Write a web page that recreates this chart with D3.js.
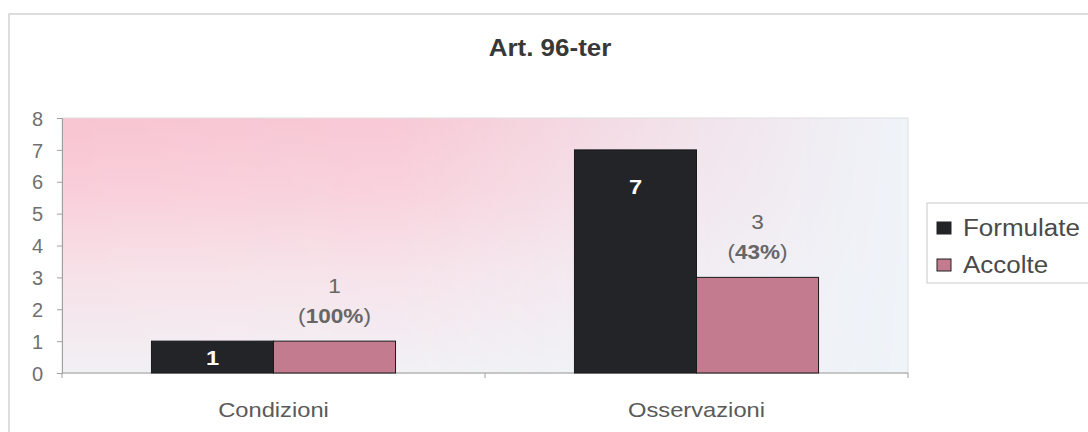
<!DOCTYPE html>
<html>
<head>
<meta charset="utf-8">
<script src="https://cdn.jsdelivr.net/npm/d3@7"></script>
<style>
  html, body { margin: 0; padding: 0; background: #fff; }
  svg { display: block; font-family: "Liberation Sans", Arial, sans-serif; }
</style>
</head>
<body>
<svg id="chart" width="1088" height="432"></svg>
<script>
// Art. 96-ter: requests made ("Formulate") vs accepted ("Accolte")
const categories = ["Condizioni", "Osservazioni"];
const seriesNames = ["Formulate", "Accolte"];
const formulate = [1, 7];
const accolte = [1, 3];
const acceptedPct = ["100%", "43%"];
const yTicks = [0, 1, 2, 3, 4, 5, 6, 7, 8];
const colors = ["#232427", "#c27b8f"];

const svg = d3.select("#chart");
const W = 1088, H = 432;
const plot = { left: 62, right: 908, top: 118, bottom: 373 };
const SX = 1.13; // horizontal text stretch

// text helper: places a label with a slight horizontal stretch
function label(g, x, y, txt, opts = {}) {
  const t = g.append("text")
    .attr("transform", `translate(${x},${y}) scale(${SX},1)`)
    .attr("text-anchor", opts.anchor || "middle")
    .attr("font-size", opts.size || 21)
    .attr("font-weight", opts.weight || "normal")
    .attr("fill", opts.fill || "#555");
  if (txt != null) t.text(txt);
  return t;
}

// chart frame
svg.append("rect")
  .attr("x", 9).attr("y", 14).attr("width", W + 20).attr("height", H + 20)
  .attr("fill", "#fff").attr("stroke", "#d2d2d2").attr("stroke-width", 1.5);

// plot-area background: pink band at the top-left fading to pale blue-white
const defs = svg.append("defs");
const vg = defs.append("linearGradient").attr("id", "pinkV")
  .attr("x1", 0).attr("y1", 0).attr("x2", 0).attr("y2", 1);
vg.append("stop").attr("offset", "0").attr("stop-color", "#f8c4d1");
vg.append("stop").attr("offset", "0.3").attr("stop-color", "#f9cfda");
vg.append("stop").attr("offset", "0.6").attr("stop-color", "#f7e1e8");
vg.append("stop").attr("offset", "1").attr("stop-color", "#f1f0f4");
const hg = defs.append("linearGradient").attr("id", "fadeH")
  .attr("x1", 0).attr("y1", 0).attr("x2", 1).attr("y2", 0);
hg.append("stop").attr("offset", "0").attr("stop-color", "#fff").attr("stop-opacity", 1);
hg.append("stop").attr("offset", "0.4").attr("stop-color", "#fff").attr("stop-opacity", 0.9);
hg.append("stop").attr("offset", "0.75").attr("stop-color", "#fff").attr("stop-opacity", 0.35);
hg.append("stop").attr("offset", "1").attr("stop-color", "#fff").attr("stop-opacity", 0);
defs.append("mask").attr("id", "fadeMask")
  .append("rect")
  .attr("x", plot.left).attr("y", plot.top)
  .attr("width", plot.right - plot.left).attr("height", plot.bottom - plot.top)
  .attr("fill", "url(#fadeH)");

svg.append("rect")
  .attr("x", plot.left).attr("y", plot.top)
  .attr("width", plot.right - plot.left).attr("height", plot.bottom - plot.top)
  .attr("fill", "#eff4f9");
svg.append("rect")
  .attr("x", plot.left).attr("y", plot.top)
  .attr("width", plot.right - plot.left).attr("height", plot.bottom - plot.top)
  .attr("fill", "url(#pinkV)").attr("mask", "url(#fadeMask)");
svg.append("rect")
  .attr("x", plot.left).attr("y", plot.top)
  .attr("width", plot.right - plot.left).attr("height", plot.bottom - plot.top)
  .attr("fill", "none").attr("stroke", "#dedede").attr("stroke-width", 1);

// scales
const x0 = d3.scaleBand().domain(categories)
  .range([plot.left, plot.right]).paddingInner(0.423).paddingOuter(0.2115);
const x1 = d3.scaleBand().domain(seriesNames).range([0, x0.bandwidth()]);
const y = d3.scaleLinear().domain([0, 8]).range([plot.bottom, plot.top]);

// y axis
const yAxis = svg.append("g").attr("transform", `translate(${plot.left},0)`)
  .call(d3.axisLeft(y).tickValues(yTicks).tickSize(5).tickPadding(14).tickFormat(d3.format("d")));
yAxis.select(".domain").attr("stroke", "#a0a0a0");
yAxis.selectAll(".tick line").attr("stroke", "#a0a0a0");
yAxis.selectAll(".tick text")
  .attr("font-size", 20).attr("fill", "#707070").attr("font-family", null)
  .attr("dy", "0.36em");

// x axis with boundary ticks
const xAxis = svg.append("g").attr("transform", `translate(0,${plot.bottom})`);
xAxis.append("line").attr("x1", plot.left).attr("x2", plot.right)
  .attr("stroke", "#a0a0a0");
const bounds = [plot.left, (plot.left + plot.right) / 2, plot.right];
xAxis.selectAll("line.tk").data(bounds).join("line").attr("class", "tk")
  .attr("x1", d => d).attr("x2", d => d).attr("y1", 0).attr("y2", 5)
  .attr("stroke", "#a0a0a0");
categories.forEach(c => {
  label(svg, x0(c) + x0.bandwidth() / 2, 417, c, { size: 21, fill: "#5a5a5a" });
});

// bars
const rows = categories.map((c, i) => ({ cat: c, vals: [formulate[i], accolte[i]], pct: acceptedPct[i] }));
const groups = svg.append("g").selectAll("g").data(rows).join("g")
  .attr("transform", d => `translate(${x0(d.cat)},0)`);
groups.selectAll("rect").data(d => d.vals.map((v, k) => ({ k, v })))
  .join("rect")
  .attr("x", d => x1(seriesNames[d.k]))
  .attr("width", x1.bandwidth())
  .attr("y", d => y(d.v))
  .attr("height", d => y(0) - y(d.v))
  .attr("fill", d => colors[d.k])
  .attr("stroke", "#1a1a1a").attr("stroke-width", 1);

// value labels
rows.forEach(r => {
  const gx = x0(r.cat);
  // inside the Formulate bar
  const top = y(r.vals[0]);
  const mid = (top + y(0)) / 2;
  label(svg, gx + x1(seriesNames[0]) + x1.bandwidth() / 2, Math.min(top + 44, mid + 8),
        String(r.vals[0]), { size: 21, weight: "bold", fill: "#fff" });
  // above the Accolte bar: count and percentage
  const ax = gx + x1(seriesNames[1]) + x1.bandwidth() / 2;
  const atop = y(r.vals[1]);
  label(svg, ax, atop - 48, String(r.vals[1]), { size: 20, fill: "#666" });
  const t = label(svg, ax, atop - 18, null, { size: 20, fill: "#666" });
  t.append("tspan").text("(");
  t.append("tspan").attr("font-weight", "bold").text(r.pct);
  t.append("tspan").text(")");
});

// title
label(svg, 550, 56, "Art. 96-ter", { size: 23, weight: "bold", fill: "#383838" });

// legend
const lg = svg.append("g");
lg.append("rect").attr("x", 927).attr("y", 203).attr("width", 200).attr("height", 80)
  .attr("fill", "#fff").attr("stroke", "#cacaca");
seriesNames.forEach((s, i) => {
  const cy = 228 + i * 37;
  lg.append("rect").attr("x", 937).attr("y", cy - 6).attr("width", 14).attr("height", 12)
    .attr("fill", colors[i]).attr("stroke", "#222").attr("stroke-width", 1);
  label(lg, 963, cy + 8, s, { size: 23, anchor: "start", fill: "#4a4a4a" });
});
</script>
</body>
</html>
